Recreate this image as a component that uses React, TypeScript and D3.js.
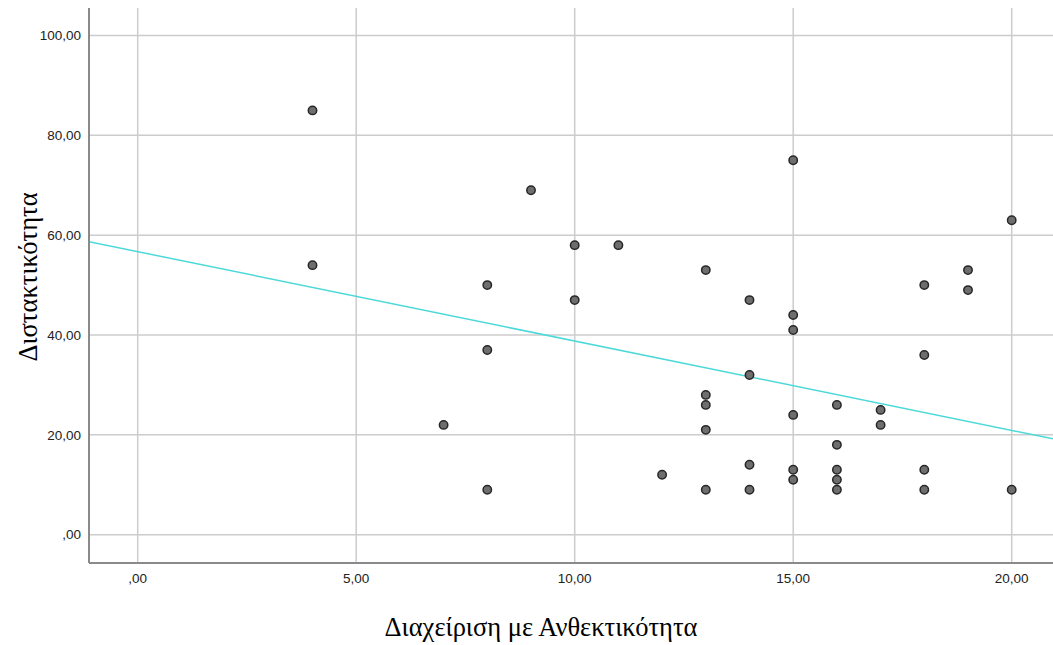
import React from "react";
import * as d3 from "d3";

const xValues = [4, 4, 7, 8, 8, 8, 9, 10, 10, 11, 12, 13, 13, 13, 13, 13, 14, 14, 14, 14, 15, 15, 15, 15, 15, 15, 16, 16, 16, 16, 16, 17, 17, 18, 18, 18, 18, 19, 19, 20, 20];
const yValues = [85, 54, 22, 50, 37, 9, 69, 58, 47, 58, 12, 53, 28, 26, 21, 9, 47, 32, 14, 9, 75, 44, 41, 24, 13, 11, 26, 18, 13, 11, 9, 25, 22, 50, 36, 13, 9, 53, 49, 63, 9];
const xTicks = [0, 5, 10, 15, 20];
const yTicks = [0, 20, 40, 60, 80, 100];
const fitIntercept = 56.7;
const fitSlope = -1.79;
const xTitle = "Διαχείριση με Ανθεκτικότητα";
const yTitle = "Διστακτικότητα";

const W = 1053;
const H = 645;
const left = 89;
const right = 1053;
const top = 8;
const bottom = 563;

const fmt = (v: number) => (v === 0 ? ",00" : d3.format(".2f")(v).replace(".", ","));

export default function App() {
  const x = d3.scaleLinear().domain([0, 20]).range([137.7, 1011.7]);
  const y = d3.scaleLinear().domain([0, 100]).range([534.7, 35.5]);
  const xMin = x.invert(left);
  const xMax = x.invert(right);
  const line = d3.line<number>().x((d) => x(d)).y((d) => y(fitIntercept + fitSlope * d));
  const pts = xValues.map((v, i) => [v, yValues[i]]);
  return (
    <svg width={W} height={H} style={{ position: "absolute", left: 0, top: 0, background: "#fff" }}>
      <defs>
        <clipPath id="plot">
          <rect x={left} y={top} width={right - left} height={bottom - top} />
        </clipPath>
      </defs>
      {yTicks.map((t) => (
        <line key={"gy" + t} x1={left} x2={right} y1={y(t)} y2={y(t)} stroke="#cccccc" strokeWidth={1.5} />
      ))}
      {xTicks.map((t) => (
        <line key={"gx" + t} x1={x(t)} x2={x(t)} y1={top} y2={bottom} stroke="#cccccc" strokeWidth={1.5} />
      ))}
      <path d={line([xMin, xMax]) || ""} stroke="#4dd9d9" strokeWidth={1.5} fill="none" clipPath="url(#plot)" />
      {pts.map((p, i) => (
        <circle key={i} cx={x(p[0])} cy={y(p[1])} r={4.2} fill="#6e6e6e" stroke="#262626" strokeWidth={1.5} />
      ))}
      <line x1={left} x2={left} y1={top} y2={bottom} stroke="#8a8a8a" strokeWidth={2} />
      <line x1={left} x2={right} y1={bottom} y2={bottom} stroke="#8a8a8a" strokeWidth={2} />
      {yTicks.map((t) => (
        <text key={"ty" + t} x={left - 8} y={y(t)} dy="0.35em" textAnchor="end" fontFamily="Liberation Sans, Arial, sans-serif" fontSize={13.5} fill="#222">
          {fmt(t)}
        </text>
      ))}
      {xTicks.map((t) => (
        <text key={"tx" + t} x={x(t)} y={bottom + 20} textAnchor="middle" fontFamily="Liberation Sans, Arial, sans-serif" fontSize={13.5} fill="#222">
          {fmt(t)}
        </text>
      ))}
      <text x={541} y={636} textAnchor="middle" fontFamily="Liberation Serif, Times New Roman, serif" fontSize={26.5} fill="#000">
        {xTitle}
      </text>
      <text transform={`translate(37,277) rotate(-90)`} textAnchor="middle" fontFamily="Liberation Serif, Times New Roman, serif" fontSize={26.5} fill="#000">
        {yTitle}
      </text>
    </svg>
  );
}
